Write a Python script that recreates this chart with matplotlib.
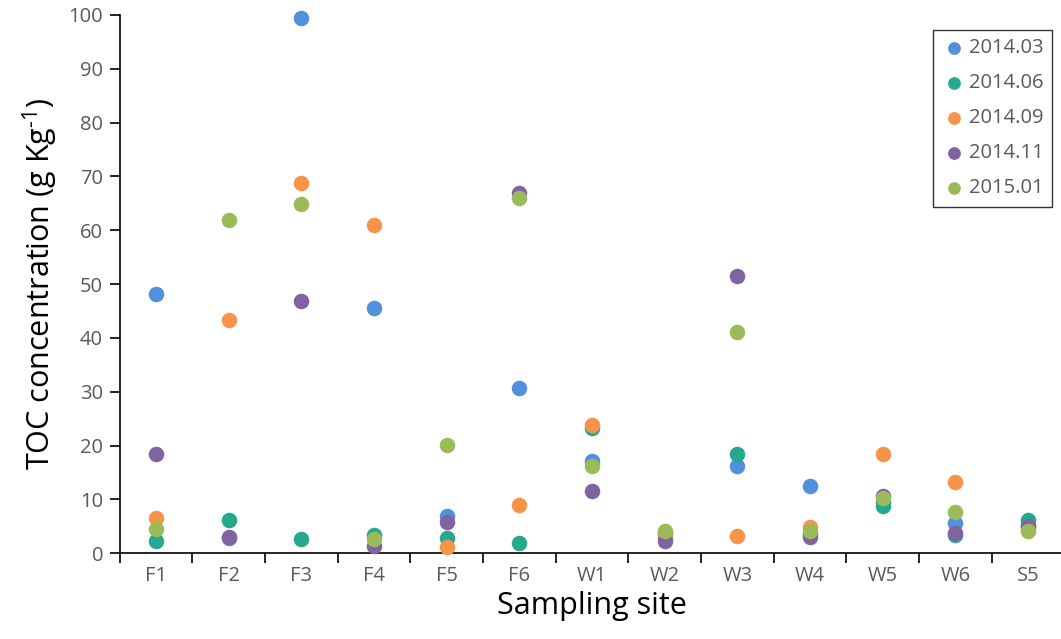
import matplotlib
matplotlib.use("Agg")
import matplotlib.pyplot as plt
import numpy as np
from matplotlib.ticker import FixedLocator, NullFormatter

plt.rcParams['font.family'] = ['Open Sans', 'DejaVu Sans']
plt.rcParams['mathtext.fontset'] = 'custom'
plt.rcParams['mathtext.rm'] = 'Open Sans'
plt.rcParams['mathtext.it'] = 'Open Sans'

sites = ["F1", "F2", "F3", "F4", "F5", "F6", "W1", "W2", "W3", "W4", "W5", "W6", "S5"]
series_names = ["2014.03", "2014.06", "2014.09", "2014.11", "2015.01"]

toc_2014_03 = [48.1, 2.8, 99.4, 45.6, 7.0, 30.7, 17.2, 3.0, 16.3, 12.5, 9.5, 5.6, 5.3]
toc_2014_06 = [2.3, 6.2, 2.6, 3.4, 2.8, 1.9, 23.3, 3.7, 18.4, 3.5, 8.7, 3.4, 6.2]
toc_2014_09 = [6.6, 43.3, 68.8, 61.0, 1.2, 9.0, 23.9, 3.5, 3.3, 4.9, 18.4, 13.2, 4.8]
toc_2014_11 = [18.4, 3.1, 46.9, 1.4, 5.9, 66.9, 11.6, 2.2, 51.5, 3.0, 10.7, 3.8, 5.1]
toc_2015_01 = [4.6, 62.0, 64.9, 2.6, 20.1, 66.0, 16.3, 4.1, 41.1, 4.1, 10.3, 7.7, 4.1]

colors = ["#528FDC", "#26A88E", "#F7944A", "#8064A2", "#9BBB59"]
all_series = [toc_2014_03, toc_2014_06, toc_2014_09, toc_2014_11, toc_2015_01]

fig = plt.figure(figsize=(10.61, 6.39), dpi=100)
ax = fig.add_axes([119.7 / 1061, 1 - 553.3 / 639, 944.7 / 1061, (553.3 - 15) / 639])

x = np.arange(len(sites))
for name, vals, c in zip(series_names, all_series, colors):
    ax.scatter(x, vals, s=125, color=c, label=name, zorder=3, linewidths=0, clip_on=False)

ax.set_xlim(-0.5, len(sites) - 0.5)
ax.set_ylim(0, 100)
ax.set_yticks(np.arange(0, 101, 10))
ax.set_xticks(x)
ax.set_xticklabels(sites)
ax.xaxis.set_minor_locator(FixedLocator(np.arange(-0.5, len(sites), 1.0)))
ax.xaxis.set_minor_formatter(NullFormatter())
ax.tick_params(axis='x', which='major', length=0, pad=9, labelsize=14.5, labelcolor='#595959')
ax.tick_params(axis='x', which='minor', length=7, width=1.2, direction='out', color='black')
ax.tick_params(axis='y', which='major', length=7, width=1.2, direction='out', pad=5,
               labelsize=14.5, labelcolor='#595959', color='black')

for s in ['top', 'right']:
    ax.spines[s].set_visible(False)
for s in ['left', 'bottom']:
    ax.spines[s].set_linewidth(1.2)
    ax.spines[s].set_color('black')

ax.set_ylabel(r"TOC concentration (g Kg$^{\text{-1}}$)", fontsize=22, labelpad=6)
ax.set_xlabel("Sampling site", fontsize=22, labelpad=4)

leg = ax.legend(loc='upper right', bbox_to_anchor=(1052 / 1061, 1 - 30 / 639),
                bbox_transform=fig.transFigure, frameon=True, fancybox=False,
                edgecolor='black', fontsize=14.5, markerscale=0.82, handletextpad=0.1,
                labelspacing=0.75, borderpad=0.4, handlelength=1.3, borderaxespad=0)
leg.get_frame().set_linewidth(1.0)
for t in leg.get_texts():
    t.set_color('#595959')

fig.savefig("out.png", dpi=100)
